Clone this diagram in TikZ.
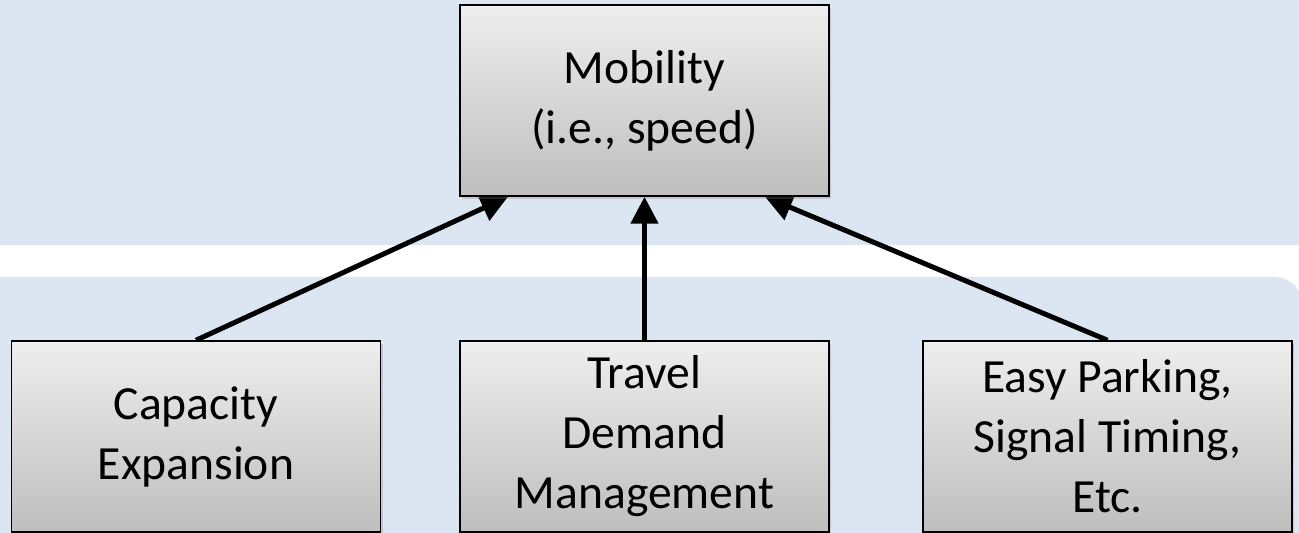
\documentclass[tikz,border=0pt]{standalone}
\usepackage{fontspec}
\setmainfont{Carlito}
\usetikzlibrary{arrows.meta, calc, shadows}
\definecolor{bandblue}{RGB}{220,230,242}
\definecolor{boxtop}{RGB}{238,238,238}
\definecolor{boxbottom}{RGB}{190,190,190}
\pgfdeclarelayer{bands}
\pgfdeclarelayer{links}
\pgfsetlayers{bands,links,main}

\begin{document}
\begin{tikzpicture}[x=0.5pt, y=-0.5pt,
        stage/.style={draw=black, line width=0.75pt, rectangle, minimum width=184.5pt, minimum height=95.5pt, align=center, top color=boxtop, bottom color=boxbottom, font=\fontsize{23.8}{30}\selectfont, drop shadow={opacity=0.3, shadow xshift=1pt, shadow yshift=-1.5pt}},
        arrow/.style={-{Triangle[length=13.5pt, width=13.5pt]}, line width=2.5pt}
    ]
    \useasboundingbox (0,0) rectangle (1299,533);

    % Bands
    \begin{pgfonlayer}{bands}
    \fill[bandblue] (0,0) rectangle (1299,245);
    \fill[bandblue] (0,533) -- (0,277) [rounded corners=15pt] -- (1304,277) [sharp corners] -- (1304,533) -- cycle;
    \end{pgfonlayer}

    % Stages
    \node[stage] (mob) at (644.5,100.5) {Mobility\\(i.e., speed)};
    \node[stage] (cap) at (196,436.5) {Capacity\\Expansion};
    \node[stage] (tdm) at (644.5,436.5) {Travel\\Demand\\Management};
    \node[stage] (etc) at (1107.5,436.5) {Easy Parking,\\Signal Timing,\\Etc.};

    \coordinate (mobL) at ($(mob.south)+(-136.5,0)$);
    \coordinate (mobR) at ($(mob.south)+(120.5,0)$);

    % Arrows
    \begin{pgfonlayer}{links}
    \draw[arrow] (cap.north) -- (mobL);
    \draw[arrow] (tdm.north) -- (mob.south);
    \draw[arrow] (etc.north) -- (mobR);
    \end{pgfonlayer}

\end{tikzpicture}
\end{document}
